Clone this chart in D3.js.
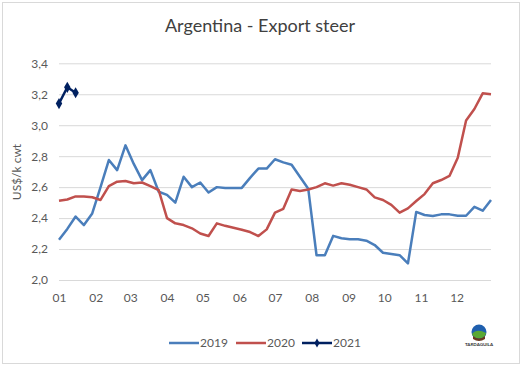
<!DOCTYPE html>
<html>
<head>
<meta charset="utf-8">
<script src="https://cdn.jsdelivr.net/npm/d3@7"></script>
<style>
  body { margin: 0; background: #fff; }
  text { font-family: Lato, "Open Sans", sans-serif; }
</style>
</head>
<body>
<div id="chart"></div>
<script>
var years = ["2019", "2020", "2021"];
var colors = ["#4a7ebb", "#c0504d", "#002060"];

// weekly prices, US$/k cwt
var series2019 = [2.26, 2.33, 2.41, 2.355, 2.43, 2.60, 2.775, 2.71, 2.87, 2.75, 2.645, 2.71, 2.57, 2.55, 2.50, 2.667, 2.60, 2.63, 2.565, 2.60, 2.595, 2.595, 2.595, 2.66, 2.72, 2.72, 2.78, 2.76, 2.745, 2.667, 2.59, 2.16, 2.16, 2.285, 2.27, 2.263, 2.263, 2.254, 2.226, 2.176, 2.168, 2.16, 2.107, 2.44, 2.42, 2.413, 2.424, 2.424, 2.415, 2.415, 2.473, 2.448, 2.517];
var series2020 = [2.512, 2.52, 2.54, 2.54, 2.535, 2.517, 2.607, 2.635, 2.64, 2.625, 2.63, 2.607, 2.58, 2.40, 2.366, 2.355, 2.334, 2.30, 2.284, 2.366, 2.35, 2.337, 2.325, 2.31, 2.284, 2.327, 2.435, 2.46, 2.585, 2.575, 2.585, 2.60, 2.625, 2.61, 2.625, 2.615, 2.60, 2.585, 2.534, 2.517, 2.485, 2.435, 2.463, 2.51, 2.555, 2.625, 2.646, 2.672, 2.79, 3.03, 3.105, 3.206, 3.20];
var series2021 = [3.14, 3.245, 3.21];
var yTicks = [2.0, 2.2, 2.4, 2.6, 2.8, 3.0, 3.2, 3.4];

var width = 526,
    height = 368;

var svg = d3.select("#chart")
    .append("svg")
    .attr("width", width)
    .attr("height", height)

svg.append("rect")
    .attr("x", 2.5).attr("y", 2.5)
    .attr("width", 517).attr("height", 361)
    .attr("fill", "#fff")
    .attr("stroke", "#d9d9d9")

svg.append("text")
    .attr("x", 260)
    .attr("y", 32)
    .attr("text-anchor", "middle")
    .style("font-size", "18px")
    .attr("fill", "#404040")
    .text("Argentina - Export steer")

// week index -> date in a generic year, so month ticks fall on the 1st
var start = new Date(2020, 0, 1);
function weekDate(i) { return d3.timeDay.offset(start, i * 7) }

var x = d3.scaleTime()
    .domain([start, weekDate(52)])
    .range([59, 491])

var y = d3.scaleLinear()
    .domain([2.0, 3.4])
    .range([280, 63.3])

var comma = d3.formatLocale({ decimal: ",", thousands: ".", grouping: [3], currency: ["", "$"] }).format(".1f")

// gridlines
svg.append("g")
    .attr("transform", "translate(59,0)")
    .call(d3.axisLeft(y).tickValues(yTicks).tickSize(-432).tickFormat(""))
    .call(g => g.select(".domain").remove())
    .call(g => g.selectAll("line").attr("stroke", "#d9d9d9"))

svg.append("g")
    .attr("transform", "translate(51,0)")
    .call(d3.axisLeft(y).tickValues(yTicks).tickSize(0).tickFormat(comma))
    .call(g => g.select(".domain").remove())
    .call(g => g.selectAll("text")
        .attr("fill", "#595959")
        .style("font-size", "12px")
        .style("font-family", "Lato, sans-serif"))

svg.append("g")
    .attr("transform", "translate(0,290)")
    .call(d3.axisBottom(x).ticks(d3.timeMonth.every(1)).tickSize(0).tickFormat(d3.timeFormat("%m")))
    .call(g => g.select(".domain").remove())
    .call(g => g.selectAll("text")
        .attr("fill", "#595959")
        .style("font-size", "12px")
        .style("font-family", "Lato, sans-serif"))

svg.append("text")
    .attr("transform", "translate(21,172) rotate(-90)")
    .attr("text-anchor", "middle")
    .style("font-size", "12px")
    .attr("fill", "#595959")
    .text("US$/k cwt")

var line = d3.line()
    .x(function (d, i) { return x(weekDate(i)) })
    .y(function (d) { return y(d) })

var allSeries = [series2019, series2020, series2021];

allSeries.forEach(function (s, k) {
    svg.append("path")
        .datum(s)
        .attr("fill", "none")
        .attr("stroke", colors[k])
        .attr("stroke-width", 2.5)
        .attr("stroke-linejoin", "round")
        .attr("d", line)
})

svg.selectAll(".marker")
    .data(series2021)
    .enter().append("path")
    .attr("class", "marker")
    .attr("d", d3.symbol().type(d3.symbolDiamond).size(36))
    .attr("transform", function (d, i) { return "translate(" + x(weekDate(i)) + "," + y(d) + ")" })
    .attr("fill", colors[2])

// legend
var legendX = [169, 236, 302];
var legend = svg.selectAll(".legend")
    .data(years)
    .enter().append("g")
    .attr("class", "legend")
    .attr("transform", function (d, i) { return "translate(" + legendX[i] + ",343)" })

legend.append("line")
    .attr("x1", 0).attr("x2", 30)
    .attr("stroke", function (d, i) { return colors[i] })
    .attr("stroke-width", 2.5)

legend.filter(function (d) { return d == "2021" })
    .append("path")
    .attr("d", d3.symbol().type(d3.symbolDiamond).size(24))
    .attr("transform", "translate(15,0)")
    .attr("fill", colors[2])

legend.append("text")
    .attr("x", 31)
    .attr("dy", "0.35em")
    .style("font-size", "12px")
    .attr("fill", "#595959")
    .text(function (d) { return d })

// little logo
var logo = svg.append("g").attr("transform", "translate(479,332)")
logo.append("circle").attr("r", 7.5).attr("fill", "#1f5fae")
logo.append("path")
    .attr("d", "M-7,2 Q-2,-4 7,1 L6,4 Q0,9 -6,4 Z")
    .attr("fill", "#5aa832")
logo.append("path")
    .attr("d", "M-6,4 Q0,9 6,4 L6,7 Q0,11 -6,7 Z")
    .attr("fill", "#6b3a1e")
logo.append("text")
    .attr("y", 14)
    .attr("text-anchor", "middle")
    .style("font-size", "4.5px")
    .style("font-weight", "bold")
    .attr("fill", "#333")
    .text("TARDAGUILA")
</script>
</body>
</html>
